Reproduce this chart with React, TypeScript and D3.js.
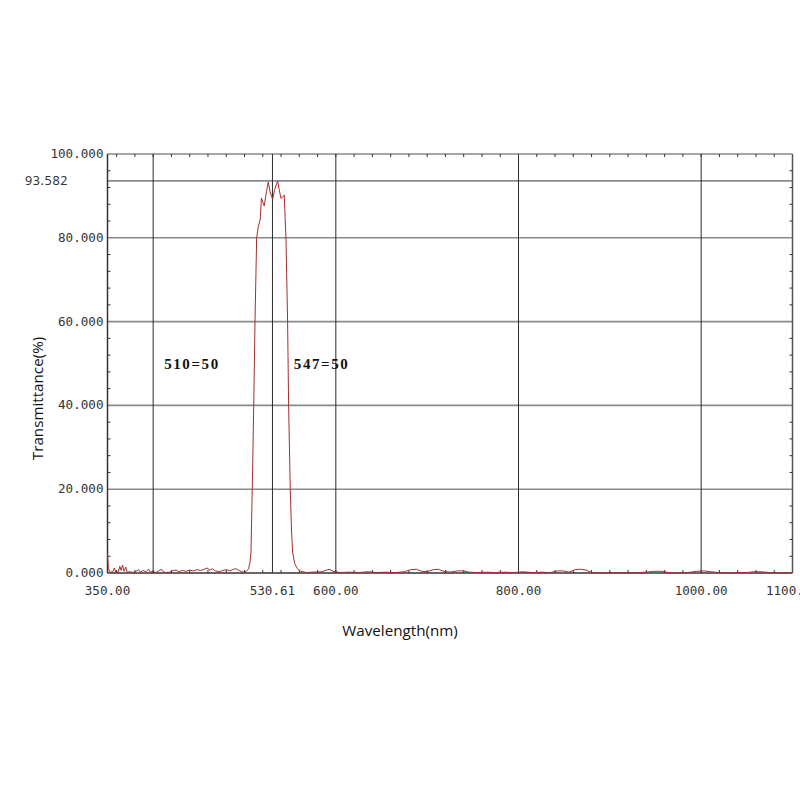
import React, { useEffect, useRef } from 'react'
import * as d3 from 'd3'

// measured spectrum, [wavelength nm, transmittance %]
const blueSide: [number, number][] = [
  [350, 4.5], [351, 1.0], [353, 0.2], [356, 0.3], [357.5, 1.2], [359, 0.2], [362, 0.3],
  [363.5, 1.6], [365, 0.6], [366.5, 1.9], [368, 0.4], [370, 1.4], [371.5, 0.2], [375, 0.3],
  [378, 0.1], [381, 0.4], [384, 0.8], [386, 0.2], [389, 0.6], [392, 0.3], [395, 0.9],
  [397, 0.2], [400, 0.4], [403, 0.1], [406, 0.5], [409, 0.9], [411, 0.3], [414, 0.1],
  [418, 0.2], [422, 0.6], [425, 0.7], [428, 0.3], [432, 0.6], [436, 0.4], [440, 0.7],
  [444, 0.5], [448, 0.8], [452, 0.6], [456, 0.9], [459, 1.2], [462, 0.7], [465, 1.0],
  [468, 0.5], [472, 0.3], [476, 0.6], [480, 0.8], [484, 0.5], [488, 0.9], [491, 1.0],
  [494, 0.6], [497, 0.3], [500, 0.2], [502, 0.4],
]

const passband: [number, number][] = [
  [504.4, 1], [506, 2.5], [507.1, 5], [508.5, 20], [510.1, 40], [511.5, 60], [513.3, 80],
  [515, 82.5], [517.3, 84.5], [518.5, 89.5], [520, 88.5], [521.6, 87.6], [524, 91],
  [526, 93.3], [528, 91], [530.8, 89.2], [533, 91.5], [536.3, 93.582], [538, 91.5],
  [539.9, 89.4], [542, 89.8], [543.5, 90.2], [544.6, 84], [545.4, 80], [547.2, 60],
  [548.3, 40], [550.1, 20], [551.5, 10], [552.7, 5], [555, 2.2], [558, 1], [561, 0.5],
  [564, 0.3], [568, 0.1],
]

const redSide: [number, number][] = [
  [575, 0.2], [585, 0.3], [590, 0.7], [593, 0.9], [597, 0.4], [605, 0.1], [615, 0.2],
  [625, 0.1], [635, 0.3], [645, 0.1], [655, 0.2], [665, 0.1], [675, 0.3], [682, 0.8],
  [688, 0.9], [694, 0.4], [700, 0.3], [707, 0.8], [712, 0.9], [718, 0.4], [725, 0.2],
  [733, 0.5], [740, 0.5], [746, 0.2], [755, 0.1], [765, 0.2], [775, 0.1], [785, 0.2],
  [795, 0.1], [805, 0.3], [815, 0.1], [825, 0.2], [835, 0.1], [843, 0.5], [849, 0.5],
  [855, 0.2], [862, 0.8], [868, 0.9], [874, 0.7], [880, 0.1], [890, 0], [900, 0],
  [910, 0.1], [920, 0], [930, 0.1], [940, 0.2], [948, 0.4], [957, 0.4], [965, 0.1],
  [975, 0], [985, 0.1], [995, 0.4], [1003, 0.5], [1010, 0.3], [1020, 0.1], [1030, 0],
  [1040, 0.1], [1050, 0.1], [1058, 0.3], [1066, 0.3], [1075, 0.1], [1085, 0], [1095, 0.1],
  [1100, 0.1],
]

const xTicks = [350, 530.61, 600, 800, 1000, 1100]
const xGrid = [400, 530.61, 600, 800, 1000]
const yTicks = [0, 20, 40, 60, 80, 100]
const peakValue = 93.582

const edgeLabels = [
  { text: '510=50', nm: 412 },
  { text: '547=50', nm: 554 },
]

const App = () => {
  const refSvg = useRef(null)

  const draw = () => {
    const svg = d3.select(refSvg.current)
    svg.selectAll('*').remove()

    const left = 107.5
    const right = 792.5
    const top = 154
    const bottom = 573

    const x = d3.scaleLinear().domain([350, 1100]).range([left, right])
    const y = d3.scaleLinear().domain([0, 100]).range([bottom, top])

    const g = svg.append('g')

    // horizontal grid (grey)
    const hLines = [20, 40, 60, 80, peakValue, 100]
    g.selectAll('line.h')
      .data(hLines)
      .enter()
      .append('line')
      .attr('x1', left)
      .attr('x2', right)
      .attr('y1', (d) => y(d))
      .attr('y2', (d) => y(d))
      .attr('stroke', '#8a8a8a')
      .attr('stroke-width', 1.6)

    // vertical grid (dark)
    g.selectAll('line.v')
      .data(xGrid)
      .enter()
      .append('line')
      .attr('x1', (d) => x(d))
      .attr('x2', (d) => x(d))
      .attr('y1', top)
      .attr('y2', bottom)
      .attr('stroke', '#2a2a2a')
      .attr('stroke-width', 1)

    // frame
    g.append('line').attr('x1', left).attr('x2', left).attr('y1', top).attr('y2', bottom).attr('stroke', '#333').attr('stroke-width', 1.5)
    g.append('line').attr('x1', right).attr('x2', right).attr('y1', top).attr('y2', bottom).attr('stroke', '#555').attr('stroke-width', 1.5)
    g.append('line').attr('x1', left).attr('x2', right).attr('y1', bottom).attr('y2', bottom).attr('stroke', '#333').attr('stroke-width', 1.5)

    // minor ticks
    const minorX = d3.range(360, 1100, 20)
    const minorY = d3.range(4, 100, 4).filter((d) => d % 20 !== 0)
    minorX.forEach((d) => {
      g.append('line').attr('x1', x(d)).attr('x2', x(d)).attr('y1', bottom).attr('y2', bottom - 3).attr('stroke', '#333')
      g.append('line').attr('x1', x(d)).attr('x2', x(d)).attr('y1', top).attr('y2', top + 3).attr('stroke', '#333')
    })
    minorY.forEach((d) => {
      g.append('line').attr('x1', left).attr('x2', left + 3).attr('y1', y(d)).attr('y2', y(d)).attr('stroke', '#333')
      g.append('line').attr('x1', right).attr('x2', right - 3).attr('y1', y(d)).attr('y2', y(d)).attr('stroke', '#333')
    })

    // spectrum
    const spectrum = [...blueSide, ...passband, ...redSide]
    const line = d3
      .line<[number, number]>()
      .x((d) => x(d[0]))
      .y((d) => y(d[1]))
      .curve(d3.curveLinear)
    g.append('path')
      .datum(spectrum)
      .attr('fill', 'none')
      .attr('stroke', '#a3302e')
      .attr('stroke-width', 1)
      .attr('d', line)

    // tick labels
    const tickFont = '"DejaVu Sans Mono", monospace'
    g.selectAll('text.xt')
      .data(xTicks)
      .enter()
      .append('text')
      .attr('x', (d) => x(d))
      .attr('y', bottom + 22)
      .attr('text-anchor', 'middle')
      .attr('font-family', tickFont)
      .attr('font-size', 12.6)
      .attr('fill', '#333')
      .text((d) => (d === 530.61 ? '530.61' : d.toFixed(2)))

    g.selectAll('text.yt')
      .data(yTicks)
      .enter()
      .append('text')
      .attr('x', left - 4)
      .attr('y', (d) => y(d) + 4)
      .attr('text-anchor', 'end')
      .attr('font-family', tickFont)
      .attr('font-size', 12.6)
      .attr('fill', '#333')
      .text((d) => d.toFixed(3))

    g.append('text')
      .attr('x', 68)
      .attr('y', y(peakValue) + 4)
      .attr('text-anchor', 'end')
      .attr('font-family', '"Noto Sans", sans-serif')
      .attr('font-size', 12.6)
      .attr('letter-spacing', 0.6)
      .attr('fill', '#333')
      .text(peakValue.toFixed(3))

    // band edge annotations
    g.selectAll('text.edge')
      .data(edgeLabels)
      .enter()
      .append('text')
      .attr('x', (d) => x(d.nm))
      .attr('y', y(50) + 5.5)
      .attr('font-family', '"Liberation Serif", serif')
      .attr('font-weight', 'bold')
      .attr('font-size', 15)
      .attr('letter-spacing', 1.6)
      .attr('fill', '#111')
      .text((d) => d.text)

    // axis titles
    g.append('text')
      .attr('x', (left + right) / 2 - 50)
      .attr('y', 636)
      .attr('text-anchor', 'middle')
      .attr('font-family', '"Open Sans", sans-serif')
      .attr('font-size', 15.2)
      .attr('fill', '#111')
      .text('Wavelength(nm)')

    g.append('text')
      .attr('transform', `translate(43, ${(top + bottom) / 2 + 35}) rotate(-90)`)
      .attr('text-anchor', 'middle')
      .attr('font-family', '"Open Sans", sans-serif')
      .attr('font-size', 15.2)
      .attr('fill', '#111')
      .text('Transmittance(%)')
  }

  useEffect(() => {
    if (refSvg) {
      draw()
    }
  })

  return (
    <svg
      ref={refSvg}
      width={800}
      height={800}
      style={{ position: 'absolute', left: 0, top: 0, background: '#fff' }}
    />
  )
}

export default App
